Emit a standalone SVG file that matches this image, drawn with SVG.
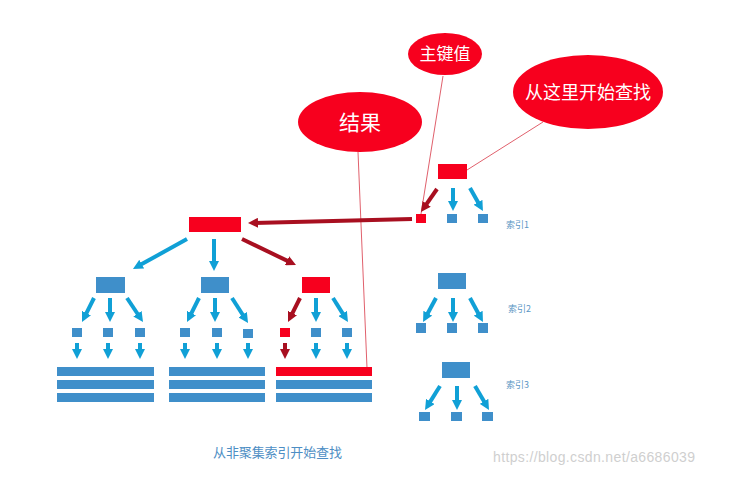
<svg xmlns="http://www.w3.org/2000/svg" width="741" height="497" viewBox="0 0 741 497">
<style>
.red{fill:#f7001e}
.blue{fill:#3f8fca}
.ab{stroke:#10a0d6;stroke-width:4;fill:none;marker-end:url(#mb)}
.ar{stroke:#a80f20;stroke-width:4;fill:none;marker-end:url(#mr)}
.thin{stroke:#e0606c;stroke-width:1;fill:none}
.et{font-family:"Noto Sans CJK SC","Noto Sans",sans-serif;fill:#fff;text-anchor:middle}
.lbl{font-family:"Noto Sans CJK SC",sans-serif;fill:#5a96c4;font-size:9px}
</style>
<defs>
<marker id="mb" markerUnits="userSpaceOnUse" viewBox="0 0 10 10" refX="4" refY="5" markerWidth="10" markerHeight="10" orient="auto"><path d="M0,0 L10,5 L0,10 z" fill="#10a0d6"/></marker>
<marker id="mr" markerUnits="userSpaceOnUse" viewBox="0 0 10 10" refX="4" refY="5" markerWidth="10" markerHeight="10" orient="auto"><path d="M0,0 L10,5 L0,10 z" fill="#a80f20"/></marker>
</defs>
<rect width="741" height="497" fill="#fff"/>
<g id="connectors">
<line class="thin" x1="443" y1="76" x2="421" y2="214"/>
<line class="thin" x1="543" y1="122" x2="467" y2="170"/>
<line class="thin" x1="358" y1="152" x2="367" y2="368"/>
<line class="ar" x1="437" y1="189" x2="424.4" y2="207.1"/>
<line class="ab" x1="453" y1="188" x2="453" y2="205"/>
<line class="ab" x1="470" y1="188" x2="480" y2="205.8"/>
<line class="ar" x1="412" y1="219" x2="254" y2="222.9"/>
<line class="ab" x1="187" y1="239" x2="138.2" y2="266.1"/>
<line class="ab" x1="214" y1="239" x2="214" y2="265"/>
<line class="ar" x1="242" y1="239" x2="290.6" y2="262.4"/>
<line class="ab" x1="94" y1="298" x2="84.7" y2="316.6"/>
<line class="ab" x1="110" y1="298" x2="110" y2="316"/>
<line class="ab" x1="127" y1="298" x2="139.7" y2="317"/>
<line class="ab" x1="199" y1="298" x2="189.7" y2="316.6"/>
<line class="ab" x1="215" y1="298" x2="215" y2="316"/>
<line class="ab" x1="232" y1="298" x2="244.8" y2="318"/>
<line class="ar" x1="300" y1="298" x2="290.7" y2="316.6"/>
<line class="ab" x1="316" y1="298" x2="316" y2="316"/>
<line class="ab" x1="333" y1="298" x2="344.8" y2="316.9"/>
<line class="ab" x1="77" y1="343" x2="77" y2="353"/>
<line class="ab" x1="108" y1="343" x2="108" y2="353"/>
<line class="ab" x1="140" y1="343" x2="140" y2="353"/>
<line class="ab" x1="185" y1="343" x2="185" y2="353"/>
<line class="ab" x1="217" y1="343" x2="217" y2="353"/>
<line class="ab" x1="248" y1="343" x2="248" y2="353"/>
<line class="ar" x1="285" y1="343" x2="285" y2="353"/>
<line class="ab" x1="316" y1="343" x2="316" y2="353"/>
<line class="ab" x1="347" y1="343" x2="347" y2="353"/>
<line class="ab" x1="436" y1="298" x2="425.9" y2="316.7"/>
<line class="ab" x1="453" y1="298" x2="453" y2="316"/>
<line class="ab" x1="470" y1="298" x2="480.1" y2="316.7"/>
<line class="ab" x1="440" y1="386" x2="428.2" y2="404.9"/>
<line class="ab" x1="457" y1="386" x2="457" y2="404"/>
<line class="ab" x1="475" y1="386" x2="486" y2="404.8"/>
</g>
<g id="e-pk"><ellipse class="red" cx="445" cy="54" rx="37" ry="21"/><text class="et" x="445" y="60" font-size="17">主键值</text></g>
<g id="e-start"><ellipse class="red" cx="588" cy="92" rx="75" ry="37"/><text class="et" x="588" y="98.5" font-size="18">从这里开始查找</text></g>
<g id="e-result"><ellipse class="red" cx="360" cy="122" rx="62" ry="30"/><text class="et" x="360" y="129.5" font-size="21">结果</text></g>
<g id="i1-root"><rect class="red" x="438" y="164" width="29" height="15"/></g>
<g id="i1-a"><rect class="red" x="416" y="214" width="10" height="9"/></g>
<g id="i1-b"><rect class="blue" x="447" y="214" width="10" height="9"/></g>
<g id="i1-c"><rect class="blue" x="478" y="214" width="10" height="9"/></g>
<g id="i1-label"><text class="lbl" x="506" y="228">索引1</text></g>
<g id="c-root"><rect class="red" x="189" y="217" width="52" height="15"/></g>
<g id="c-l"><rect class="blue" x="96" y="277" width="29" height="16"/></g>
<g id="c-m"><rect class="blue" x="201" y="277" width="28" height="16"/></g>
<g id="c-r"><rect class="red" x="302" y="277" width="28" height="16"/></g>
<g id="c-l1"><rect class="blue" x="72" y="328" width="10" height="9"/></g>
<g id="c-l2"><rect class="blue" x="103" y="328" width="10" height="9"/></g>
<g id="c-l3"><rect class="blue" x="135" y="328" width="10" height="9"/></g>
<g id="c-m1"><rect class="blue" x="180" y="328" width="10" height="9"/></g>
<g id="c-m2"><rect class="blue" x="212" y="328" width="10" height="9"/></g>
<g id="c-m3"><rect class="blue" x="243" y="329" width="10" height="9"/></g>
<g id="c-r1"><rect class="red" x="280" y="328" width="10" height="9"/></g>
<g id="c-r2"><rect class="blue" x="311" y="328" width="10" height="9"/></g>
<g id="c-r3"><rect class="blue" x="342" y="328" width="10" height="9"/></g>
<g id="data-l"><rect class="blue" x="57" y="367" width="97" height="9"/><rect class="blue" x="57" y="380" width="97" height="9"/><rect class="blue" x="57" y="393" width="97" height="9"/></g>
<g id="data-m"><rect class="blue" x="169" y="367" width="96" height="9"/><rect class="blue" x="169" y="380" width="96" height="9"/><rect class="blue" x="169" y="393" width="96" height="9"/></g>
<g id="data-r"><rect class="red" x="276" y="367" width="96" height="9"/><rect class="blue" x="276" y="380" width="96" height="9"/><rect class="blue" x="276" y="393" width="96" height="9"/></g>
<g id="i2-root"><rect class="blue" x="438" y="273" width="28" height="16"/></g>
<g id="i2-a"><rect class="blue" x="416" y="323" width="10" height="10"/></g>
<g id="i2-b"><rect class="blue" x="447" y="323" width="10" height="10"/></g>
<g id="i2-c"><rect class="blue" x="478" y="323" width="10" height="10"/></g>
<g id="i2-label"><text class="lbl" x="508" y="312">索引2</text></g>
<g id="i3-root"><rect class="blue" x="442" y="362" width="28" height="16"/></g>
<g id="i3-a"><rect class="blue" x="419" y="412" width="11" height="9"/></g>
<g id="i3-b"><rect class="blue" x="451" y="412" width="11" height="9"/></g>
<g id="i3-c"><rect class="blue" x="482" y="412" width="11" height="9"/></g>
<g id="i3-label"><text class="lbl" x="506" y="388">索引3</text></g>
<g id="caption"><text x="213" y="457" font-family="Noto Sans CJK SC,sans-serif" font-size="13" fill="#4d8ec4" textLength="129">从非聚集索引开始查找</text></g>
<text x="493" y="462" font-family="Liberation Sans,Arial,sans-serif" font-size="14" fill="#cfcfcf" textLength="202">https://blog.csdn.net/a6686039</text>
</svg>
